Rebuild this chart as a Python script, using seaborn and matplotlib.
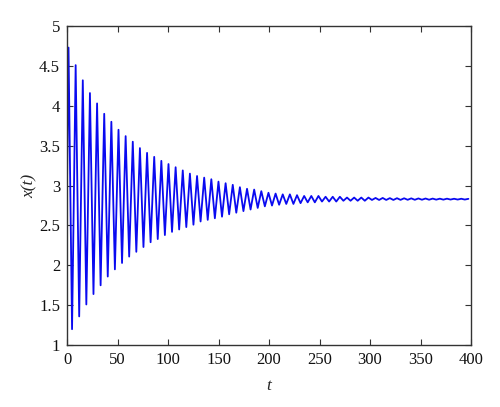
"""
Damped oscillation x(t) drawn from peak / trough values read off the figure
"""
import matplotlib
import matplotlib.pyplot as plt
import numpy as np
import pandas as pd
import seaborn as sns

matplotlib.use("Agg")

# values
x_start = 3.0
first_peak_t = 1.5
first_trough_t = 5.0
period = 7.07

peaks = [
    4.73, 4.51, 4.32, 4.16, 4.03, 3.90, 3.80, 3.70, 3.62, 3.55,
    3.47, 3.41, 3.36, 3.31, 3.27, 3.23, 3.19, 3.15, 3.12, 3.10,
    3.08, 3.05, 3.03, 3.01, 2.98, 2.96, 2.95, 2.93, 2.91, 2.90,
    2.89, 2.89, 2.88, 2.87, 2.87, 2.87, 2.86, 2.86, 2.86, 2.85,
    2.85, 2.85, 2.85, 2.845, 2.845, 2.843, 2.842, 2.841, 2.840, 2.839,
    2.838, 2.837, 2.836, 2.836, 2.835, 2.835, 2.834,
]
troughs = [
    1.20, 1.36, 1.51, 1.64, 1.75, 1.86, 1.95, 2.03, 2.11, 2.17,
    2.23, 2.29, 2.33, 2.38, 2.42, 2.45, 2.48, 2.51, 2.55, 2.57,
    2.59, 2.61, 2.64, 2.66, 2.68, 2.70, 2.72, 2.74, 2.75, 2.76,
    2.77, 2.77, 2.78, 2.79, 2.79, 2.80, 2.80, 2.80, 2.81, 2.81,
    2.81, 2.81, 2.82, 2.82, 2.82, 2.820, 2.821, 2.822, 2.822, 2.823,
    2.823, 2.824, 2.824, 2.825, 2.825, 2.825,
]

x_ticks = [0, 50, 100, 150, 200, 250, 300, 350, 400]
y_ticks = [1, 1.5, 2, 2.5, 3, 3.5, 4, 4.5, 5]
y_labels = ["1", "1.5", "2", "2.5", "3", "3.5", "4", "4.5", "5"]

# tempos de cada extremo
peak_t = first_peak_t + period * np.arange(len(peaks))
trough_t = first_trough_t + period * np.arange(len(troughs))

df = pd.DataFrame(
    {
        "t": np.concatenate([[0.0], peak_t, trough_t]),
        "x": np.concatenate([[x_start], peaks, troughs]),
    }
).sort_values("t")
df = df[df["t"] <= 400]

sns.set_theme(style="white")
plt.rcParams["font.family"] = ["Liberation Serif", "DejaVu Serif"]

fig = plt.figure(figsize=(5.0, 4.07), dpi=100)
ax = fig.add_axes([0.134, 0.152, 0.808, 0.784])

sns.lineplot(data=df, x="t", y="x", color="#0a0af0", linewidth=1.3,
             sort=False, ax=ax)

ax.set_xlim(0, 400)
ax.set_ylim(1, 5)
ax.set_xticks(x_ticks)
ax.set_xticklabels([str(v) for v in x_ticks])
ax.set_yticks(y_ticks)
ax.set_yticklabels(y_labels)

ax.set_xlabel("t", fontstyle="italic", fontsize=12.5, labelpad=7)
ax.set_ylabel("x(t)", fontstyle="italic", fontsize=12.5, labelpad=1)

for side in ["top", "bottom", "left", "right"]:
    ax.spines[side].set_visible(True)
    ax.spines[side].set_color("#333333")
    ax.spines[side].set_linewidth(1.0)

ax.tick_params(axis="both", which="both", direction="in", length=4,
               width=0.8, color="#333333", labelsize=12,
               top=True, right=True, bottom=True, left=True,
               labelcolor="#111111", pad=5)

fig.savefig("out.png", dpi=100)
